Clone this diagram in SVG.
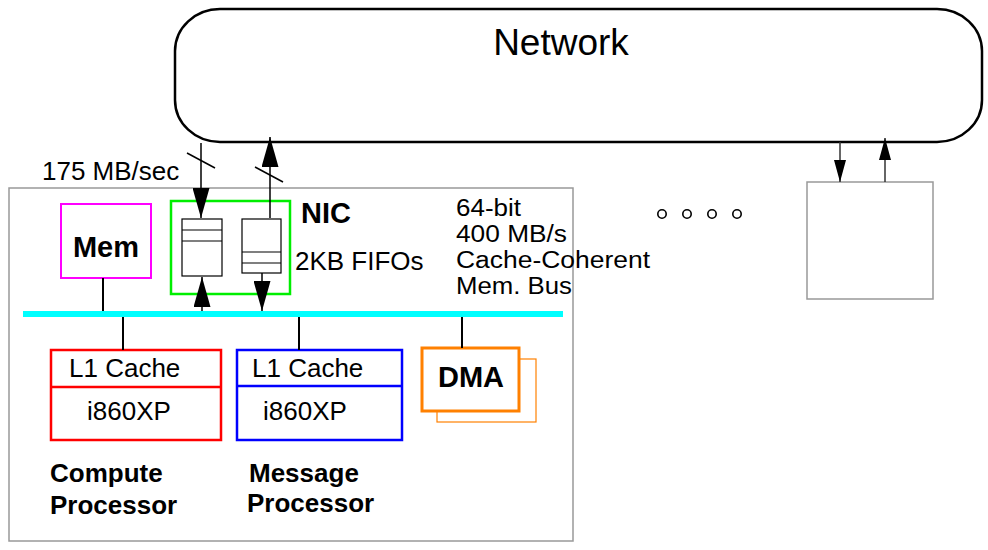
<svg xmlns="http://www.w3.org/2000/svg" width="988" height="550" viewBox="0 0 988 550">
<style>
.t{font-family:"Liberation Sans",Arial,sans-serif;fill:#000}
.r{font-size:26px}
.rs{font-size:23px}
.b{font-size:26px;font-weight:bold}
.bb{font-size:29px;font-weight:bold}
.ln{stroke:#000;stroke-width:2;fill:none}
.gbox{fill:none;stroke:#999;stroke-width:1.5}
</style>
<defs>
<marker id="big" markerUnits="userSpaceOnUse" markerWidth="30" markerHeight="17" refX="30" refY="8.5" orient="auto" viewBox="0 0 30 17">
<path d="M0,0 L30,8.5 L0,17 z" fill="#000"/>
</marker>
<marker id="small" markerUnits="userSpaceOnUse" markerWidth="22" markerHeight="12" refX="22" refY="6" orient="auto" viewBox="0 0 22 12">
<path d="M0,0 L22,6 L0,12 z" fill="#000"/>
</marker>
</defs>

<g id="network">
<rect x="175" y="9" width="807" height="133" rx="45" ry="42" fill="#fff" stroke="#000" stroke-width="2.5"/>
<text class="t" x="561" y="55" font-size="37" text-anchor="middle">Network</text>
</g>

<g id="node-main">
<rect x="9" y="188" width="564" height="353" class="gbox"/>
</g>

<g id="node-remote">
<rect x="807" y="182" width="126" height="117" class="gbox"/>
</g>

<g id="ellipsis">
<circle cx="662" cy="214" r="4.2" fill="none" stroke="#000" stroke-width="1.6"/>
<circle cx="687" cy="214" r="4.2" fill="none" stroke="#000" stroke-width="1.6"/>
<circle cx="712" cy="214" r="4.2" fill="none" stroke="#000" stroke-width="1.6"/>
<circle cx="737" cy="214" r="4.2" fill="none" stroke="#000" stroke-width="1.6"/>
</g>

<g id="bus">
<rect x="23" y="311" width="540" height="6" fill="#00ffff"/>
<text class="t rs" x="456" y="216" textLength="65" lengthAdjust="spacingAndGlyphs">64-bit</text>
<text class="t rs" x="456" y="242" textLength="111" lengthAdjust="spacingAndGlyphs">400 MB/s</text>
<text class="t rs" x="456" y="268" textLength="194" lengthAdjust="spacingAndGlyphs">Cache-Coherent</text>
<text class="t rs" x="456" y="294" textLength="116" lengthAdjust="spacingAndGlyphs">Mem. Bus</text>
</g>

<g id="mem">
<rect x="61" y="204" width="90" height="74" fill="#fff" stroke="#ff00ff" stroke-width="2"/>
<text class="t bb" x="106" y="257" text-anchor="middle">Mem</text>
</g>

<g id="nic">
<rect x="171" y="201" width="119" height="93" fill="none" stroke="#00ee00" stroke-width="2.5"/>
<rect x="182" y="219" width="40" height="57" fill="#fff" stroke="#000" stroke-width="1.2"/>
<line x1="182" y1="230" x2="222" y2="230" stroke="#000" stroke-width="1.2"/>
<line x1="182" y1="241" x2="222" y2="241" stroke="#000" stroke-width="1.2"/>
<rect x="242" y="219" width="39" height="54" fill="#fff" stroke="#000" stroke-width="1.2"/>
<line x1="242" y1="252" x2="281" y2="252" stroke="#000" stroke-width="1.2"/>
<line x1="242" y1="263" x2="281" y2="263" stroke="#000" stroke-width="1.2"/>
<text class="t bb" x="301" y="223">NIC</text>
<text class="t r" x="295" y="270">2KB FIFOs</text>
</g>

<g id="compute">
<rect x="51" y="350" width="170" height="90" fill="#fff" stroke="#ff0000" stroke-width="2.5"/>
<line x1="51" y1="387" x2="221" y2="387" stroke="#ff0000" stroke-width="2.5"/>
<text class="t r" x="69" y="377">L1 Cache</text>
<text class="t r" x="87" y="420">i860XP</text>
<text class="t b" x="50" y="482">Compute</text>
<text class="t b" x="50" y="514">Processor</text>
</g>

<g id="message">
<rect x="237" y="350" width="165" height="90" fill="#fff" stroke="#0000ff" stroke-width="2.5"/>
<line x1="237" y1="386" x2="402" y2="386" stroke="#0000ff" stroke-width="2.5"/>
<text class="t r" x="252" y="377">L1 Cache</text>
<text class="t r" x="263" y="420">i860XP</text>
<text class="t b" x="249" y="482">Message</text>
<text class="t b" x="247" y="512">Processor</text>
</g>

<g id="dma">
<rect x="437" y="359" width="99" height="63" fill="#fff" stroke="#ff8000" stroke-width="1.2"/>
<rect x="422" y="348" width="97" height="63" fill="#fff" stroke="#ff8000" stroke-width="3"/>
<text class="t bb" x="471" y="387" text-anchor="middle">DMA</text>
</g>

<g id="connectors">
<line x1="201" y1="143" x2="201" y2="218" stroke="#000" stroke-width="1.5" marker-end="url(#big)"/>
<line x1="270" y1="218" x2="270" y2="137" stroke="#000" stroke-width="1.5" marker-end="url(#big)"/>
<line x1="202" y1="311" x2="202" y2="277" stroke="#000" stroke-width="1.5" marker-end="url(#big)"/>
<line x1="262" y1="273" x2="262" y2="311" stroke="#000" stroke-width="1.5" marker-end="url(#big)"/>
<line x1="187" y1="153" x2="215" y2="168" stroke="#000" stroke-width="1.5"/>
<line x1="255" y1="167" x2="283" y2="182" stroke="#000" stroke-width="1.5"/>
<line x1="840" y1="142" x2="840" y2="182" stroke="#333" stroke-width="1.5" marker-end="url(#small)"/>
<line x1="885" y1="182" x2="885" y2="138" stroke="#333" stroke-width="1.5" marker-end="url(#small)"/>
<line x1="103" y1="278" x2="103" y2="311" class="ln"/>
<line x1="123" y1="317" x2="123" y2="350" class="ln"/>
<line x1="299" y1="317" x2="299" y2="350" class="ln"/>
<line x1="462" y1="317" x2="462" y2="348" class="ln"/>
<text class="t r" x="42" y="180">175 MB/sec</text>
</g>
</svg>
